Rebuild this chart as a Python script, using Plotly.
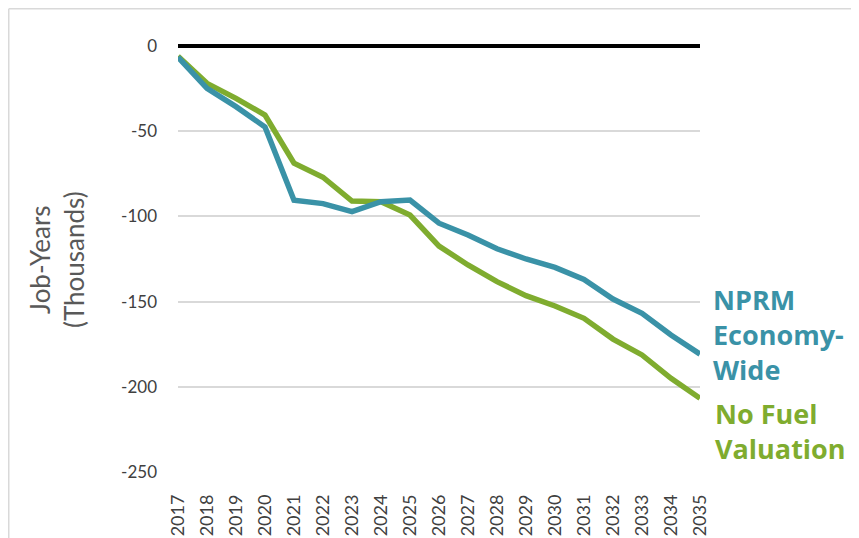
import plotly.graph_objects as go

years = list(range(2017, 2036))
year_labels = [str(y) for y in years]
nprm_economy_wide = [-6.6, -24.8, -35.6, -47.5, -90.5, -92.5, -97.2, -91.4, -90.4, -104.0,
                     -110.9, -119.0, -125.0, -129.9, -137.0, -148.5, -156.9, -169.6, -180.8]
no_fuel_valuation = [-6.0, -21.9, -30.7, -40.5, -68.8, -77.0, -91.0, -91.4, -99.2, -117.4,
                     -128.5, -138.3, -146.5, -152.6, -159.8, -172.0, -181.3, -195.0, -206.7]
y_ticks = [0, -50, -100, -150, -200, -250]
y_tick_labels = ["0", "-50", "-100", "-150", "-200", "-250"]

TEAL = "#3A92A7"
GREEN = "#7FAC2F"
FONT = "Lato"

# page body has an 8px margin; figure is placed at (8, 8)
OFF = 8
W, H = 859 - OFF, 538 - OFF
L, R, T, B = 178 - OFF, 159, 46 - OFF, 66

fig = go.Figure()
fig.add_trace(go.Scatter(x=years, y=no_fuel_valuation, mode="lines",
                         line=dict(color=GREEN, width=5.5), name="No Fuel Valuation"))
fig.add_trace(go.Scatter(x=years, y=nprm_economy_wide, mode="lines",
                         line=dict(color=TEAL, width=5.5), name="NPRM Economy-Wide"))

fig.update_layout(
    width=W, height=H,
    margin=dict(l=L, r=R, t=T, b=B, pad=0, autoexpand=False),
    paper_bgcolor="white", plot_bgcolor="white",
    showlegend=False,
    font=dict(family=FONT, color="#404040", size=16),
)
fig.update_xaxes(
    range=[2017, 2035], tickmode="array", tickvals=years, ticktext=year_labels,
    tickangle=-90, showgrid=False, zeroline=False, showline=False, automargin=False,
    ticks="", ticklabelstandoff=18, tickfont=dict(family=FONT, size=18, color="#404040"),
)
fig.update_yaxes(
    range=[-250, 0], tickmode="array", tickvals=y_ticks, ticktext=y_tick_labels,
    showgrid=True, gridcolor="#D9D9D9", gridwidth=1.5, automargin=False,
    zeroline=True, zerolinecolor="black", zerolinewidth=4,
    showline=False, ticks="", ticklabelstandoff=20,
    tickfont=dict(family=FONT, size=17, color="#404040"),
)

pw = W - L - R
ph = H - T - B
# convert page pixel coordinates to paper coordinates
def px(p):
    return (p - OFF - L) / pw
def py(p):
    return 1 - (p - OFF - T) / ph

fig.add_annotation(xref="paper", yref="paper", x=px(57), y=py(260),
                   text="Job-Years<br>(Thousands)", textangle=-90, showarrow=False,
                   xanchor="center", yanchor="middle",
                   font=dict(family=FONT, size=26, color="#595959"))
fig.add_annotation(xref="paper", yref="paper", x=px(711), y=py(334),
                   text="<b>NPRM<br>Economy-<br>Wide</b>", showarrow=False, align="left",
                   xanchor="left", yanchor="middle",
                   font=dict(family="Open Sans", size=27, color=TEAL))
fig.add_annotation(xref="paper", yref="paper", x=px(713), y=py(431),
                   text="<b>No Fuel<br>Valuation</b>", showarrow=False, align="left",
                   xanchor="left", yanchor="middle",
                   font=dict(family="Open Sans", size=27, color=GREEN))

# outer light border (left and top)
fig.add_shape(type="line", xref="paper", yref="paper", x0=px(8.75), x1=px(8.75), y0=py(8.75), y1=py(540),
              line=dict(color="#D9D9D9", width=1.5))
fig.add_shape(type="line", xref="paper", yref="paper", x0=px(8.75), x1=px(870), y0=py(8.75), y1=py(8.75),
              line=dict(color="#D9D9D9", width=1.5))

fig.write_html("out.html")
